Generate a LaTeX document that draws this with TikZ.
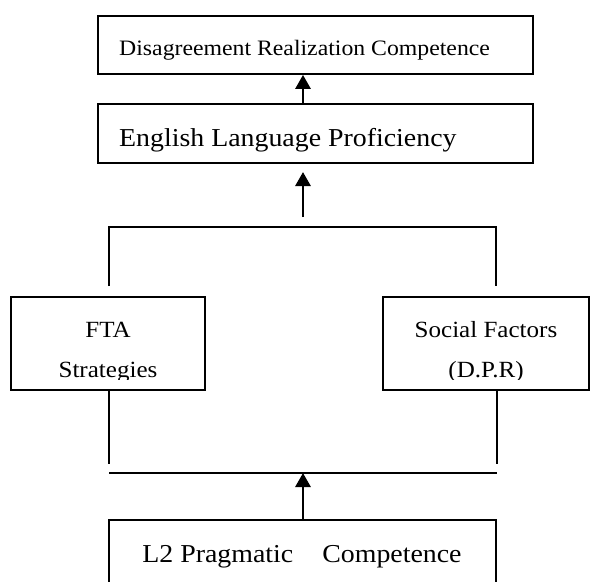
\documentclass[tikz,border=0pt]{standalone}
\usepackage{fontspec}
\setmainfont{Liberation Serif}[FakeStretch=1.08]
\usetikzlibrary{arrows.meta}
\newcommand{\fsz}[1]{\fontsize{#1}{#1}\selectfont}
\tikzset{x=1pt, y=-1pt, % one unit is one pixel of the figure, y runs down
      boxframe/.style={ % Sets the properties for each box
      draw, line width=1.8pt, inner sep=0pt},
      words/.style={inner sep=0pt}, % Text sits on its own node
      link/.style={ % Upward arrows
      line width=2.8pt, -{Triangle[width=15pt,length=14pt]}},
      bar/.style={line width=1.6pt}} % Bracket lines

\begin{document}
\begin{tikzpicture}
      \path[use as bounding box, clip] (0,0) rectangle (591,581);
      \coordinate (axis) at (303,0);
      \node[boxframe, minimum width=435, minimum height=58] (top) at (315.5,45) {};
      \node[boxframe, minimum width=435, minimum height=59] (elp) at (315.5,133.5) {};
      \node[boxframe, minimum width=194, minimum height=93] (fta) at (108,343.5) {};
      \node[boxframe, minimum width=206, minimum height=93] (soc) at (486,343.5) {};
      \node[boxframe, minimum width=387, minimum height=120] (l2) at (302.5,580) {};
      \node[words, anchor=base west, font=\fsz{22}] (ttop) at (119,55) {Disagreement Realization Competence};
      \node[words, anchor=base west, font=\fsz{25.8}] (telp) at (119,146) {English Language Proficiency};
      \node[words, anchor=base, font=\fsz{25.8}] (tl2) at (302,562) {L2 Pragmatic\hspace*{22pt} Competence};
      \begin{scope}
            \clip (fta.north west) rectangle ([yshift=11pt]fta.south east);
            \node[words, anchor=base, font=\fsz{23.2}] (tfta) at (108,337) {FTA};
            \node[words, anchor=base, font=\fsz{23.2}] (tstr) at (108,377) {Strategies};
      \end{scope}
      \begin{scope}
            \clip (soc.north west) rectangle ([yshift=11pt]soc.south east);
            \node[words, anchor=base, font=\fsz{23.2}] (tsoc) at (486,337) {Social Factors};
            \node[words, anchor=base, font=\fsz{23.2}] (tdpr) at (486,377) {(D.P.R)};
      \end{scope}
      \coordinate (ltop) at (109,227);
      \coordinate (rtop) at (496,227);
      \coordinate (lbot) at (109,473);
      \coordinate (rbot) at (497,473);
      \coordinate (tail) at (303,217);
      \coordinate (tip) at (303,172);
      \draw[link] (elp.north -| axis) -- (top.south -| axis);
      \draw[link] (tail) -- (tip);
      \draw[bar] ([yshift=10pt]fta.north -| ltop) -- (ltop) -- (rtop) -- ([yshift=10pt]soc.north -| rtop);
      \draw[bar] (fta.south -| lbot) -- ([yshift=9pt]lbot);
      \draw[bar] (soc.south -| rbot) -- ([yshift=9pt]rbot);
      \draw[bar] (lbot) -- (rbot);
      \draw[link] (l2.north -| axis) -- (lbot -| axis);
\end{tikzpicture}
\end{document}
